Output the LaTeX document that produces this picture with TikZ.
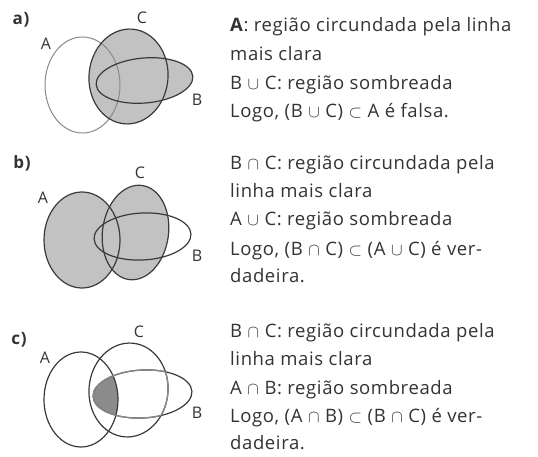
\documentclass[tikz,border=0pt]{standalone}
\usepackage{fontspec}
\setmainfont{Open Sans}[LetterSpace=3.3]
\definecolor{ink}{HTML}{3A3A3A}
\definecolor{lightink}{HTML}{8A8A8A}
\definecolor{shadeA}{HTML}{C2C2C2}
\definecolor{shadeB}{HTML}{8C8C8C}
\definecolor{txtc}{HTML}{333333}
\newcommand{\uni}{\hspace{0.3em}$\cup$\hspace{0.3em}}
\newcommand{\inter}{\hspace{0.3em}$\cap$\hspace{0.3em}}
\newcommand{\subs}{\hspace{0.3em}$\subset$\hspace{0.3em}}
\begin{document}
\begin{tikzpicture}[x=1pt,y=-1pt,
  darkline/.style={draw=ink, line width=1.2pt},
  lightline/.style={draw=lightink, line width=1.0pt},
  setlbl/.style={inner sep=0pt, text=txtc, font=\fontsize{16}{16}\selectfont},
  partlbl/.style={inner sep=0pt, text=txtc, font=\fontsize{17}{17}\selectfont\bfseries},
  txt/.style={anchor=base west, inner sep=0pt, text=txtc, font=\fontsize{18.5}{20}\selectfont}]
\useasboundingbox (0,0) rectangle (538,457);
\fill[white] (0,0) rectangle (538,457);

% ---------- a) ----------
\node[partlbl] (pa) at (21,20) {a)};
\fill[shadeA] (128.5,76.5) ellipse [x radius=39.5pt, y radius=47.5pt, rotate=-5];
\fill[shadeA, rotate around={5:(144.5,80.5)}] (144.5,80.5) ellipse [x radius=48.5pt, y radius=22.5pt];
\draw[lightline] (82.5,85) ellipse [x radius=37.5pt, y radius=48pt];
\draw[darkline, rotate around={-5:(128.5,76.5)}] (128.5,76.5) ellipse [x radius=39.5pt, y radius=47.5pt];
\draw[darkline, rotate around={5:(144.5,80.5)}] (144.5,80.5) ellipse [x radius=48.5pt, y radius=22.5pt];
\node[setlbl] (laA) at (46,44) {A};
\node[setlbl] (laC) at (142,18) {C};
\node[setlbl] (laB) at (197,100) {B};

\node[txt] (ta1) at (230,32) {\textbf{A}: região circundada pela linha};
\node[txt] (ta2) at (230,61) {mais clara};
\node[txt] (ta3) at (230,89.5) {B\uni{}C: região sombreada};
\node[txt] (ta4) at (230,118) {Logo, (B\uni{}C)\subs{}A é falsa.};

% ---------- b) ----------
\node[partlbl] (pb) at (22,163) {b)};
\fill[shadeA] (82,240) ellipse [x radius=38pt, y radius=48pt];
\fill[shadeA, rotate around={-8:(135.5,232.5)}] (135.5,232.5) ellipse [x radius=33pt, y radius=47.5pt];
\draw[darkline] (82,240) ellipse [x radius=38pt, y radius=48pt];
\draw[darkline, rotate around={-8:(135.5,232.5)}] (135.5,232.5) ellipse [x radius=33pt, y radius=47.5pt];
\draw[darkline, rotate around={3:(142.5,236.5)}] (142.5,236.5) ellipse [x radius=48.5pt, y radius=23.5pt];
\node[setlbl] (lbA) at (43,198) {A};
\node[setlbl] (lbC) at (140,173) {C};
\node[setlbl] (lbB) at (197,256) {B};

\node[txt] (tb1) at (230,169.5) {B\inter{}C: região circundada pela};
\node[txt] (tb2) at (230,197.5) {linha mais clara};
\node[txt] (tb3) at (230,225.5) {A\uni{}C: região sombreada};
\node[txt] (tb4) at (230,255) {Logo, (B\inter{}C)\subs{}(A\uni{}C) é ver-};
\node[txt] (tb5) at (230,282) {dadeira.};

% ---------- c) ----------
\node[partlbl] (pc) at (19,340) {c)};
\begin{scope}
  \clip (81,399.5) ellipse [x radius=37pt, y radius=47.5pt];
  \fill[shadeB, rotate around={3:(142.5,394)}] (142.5,394) ellipse [x radius=49.5pt, y radius=24pt];
\end{scope}
\draw[darkline] (81,399.5) ellipse [x radius=37pt, y radius=47.5pt];
\draw[darkline, rotate around={-5:(128.5,390)}] (128.5,390) ellipse [x radius=39.5pt, y radius=47pt];
\draw[darkline, rotate around={3:(142.5,394)}] (142.5,394) ellipse [x radius=49.5pt, y radius=24pt];
\begin{scope}
  \clip[rotate around={-5:(128.5,390)}] (128.5,390) ellipse [x radius=39.5pt, y radius=47pt];
  \draw[lightline, line width=1.3pt, rotate around={3:(142.5,394)}] (142.5,394) ellipse [x radius=49.5pt, y radius=24pt];
\end{scope}
\begin{scope}
  \clip[rotate around={3:(142.5,394)}] (142.5,394) ellipse [x radius=49.5pt, y radius=24pt];
  \draw[lightline, line width=1.3pt, rotate around={-5:(128.5,390)}] (128.5,390) ellipse [x radius=39.5pt, y radius=47pt];
\end{scope}
\node[setlbl] (lcA) at (45,358) {A};
\node[setlbl] (lcC) at (139,332) {C};
\node[setlbl] (lcB) at (197,413) {B};

\node[txt] (tc1) at (230,337.5) {B\inter{}C: região circundada pela};
\node[txt] (tc2) at (230,365.5) {linha mais clara};
\node[txt] (tc3) at (230,394.5) {A\inter{}B: região sombreada};
\node[txt] (tc4) at (230,422.5) {Logo, (A\inter{}B)\subs{}(B\inter{}C) é ver-};
\node[txt] (tc5) at (230,449.5) {dadeira.};
\end{tikzpicture}
\end{document}
